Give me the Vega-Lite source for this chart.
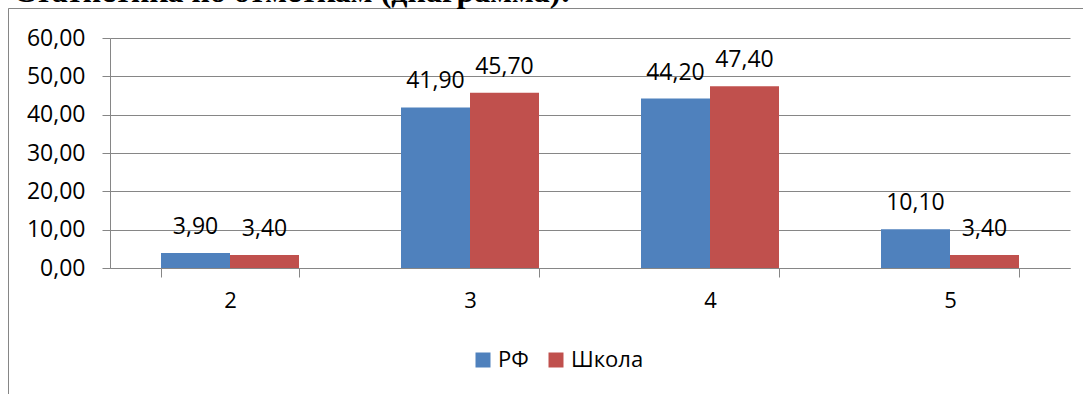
{
  "$schema": "https://vega.github.io/schema/vega-lite/v6.json",
  "autosize": "none",
  "padding": {"left": 8, "top": 8, "right": 0, "bottom": 0},
  "width": 1075,
  "height": 386,
  "title": {"text": "Статистика по отметкам (диаграмма):", "anchor": "start", "frame": "bounds", "orient": "top", "font": "Liberation Serif", "fontSize": 32, "fontWeight": "bold", "color": "black", "baseline": "alphabetic", "offset": -26, "dx": 5},
  "config": {
    "locale": {"number": {"decimal": ",", "thousands": " ", "grouping": [3], "currency": ["", ""]}},
    "view": {"stroke": "#868686", "strokeWidth": 1, "strokeDash": [1075, 1461, 386]},
    "font": "Open Sans"
  },
  "data": {"values": [
    {"grade": "2", "series": "РФ", "value": 3.9},
    {"grade": "2", "series": "Школа", "value": 3.4},
    {"grade": "3", "series": "РФ", "value": 41.9},
    {"grade": "3", "series": "Школа", "value": 45.7},
    {"grade": "4", "series": "РФ", "value": 44.2},
    {"grade": "4", "series": "Школа", "value": 47.4},
    {"grade": "5", "series": "РФ", "value": 10.1},
    {"grade": "5", "series": "Школа", "value": 3.4}
  ]},
  "encoding": {
    "x": {
      "field": "grade", "type": "nominal", "sort": ["2", "3", "4", "5"],
      "scale": {"range": [102, 1062], "paddingInner": 0.425, "paddingOuter": 0.2125},
      "axis": {"title": null, "orient": "bottom", "offset": -126, "labelAngle": 0, "labelFont": "Open Sans", "labelFontSize": 22, "labelColor": "black", "labelPadding": 13, "tickBand": "extent", "tickSize": 9, "tickColor": "#868686", "domainColor": "#868686", "grid": false}
    },
    "xOffset": {"field": "series", "type": "nominal", "sort": ["РФ", "Школа"], "scale": {"paddingInner": 0, "paddingOuter": 0}},
    "y": {
      "field": "value", "type": "quantitative",
      "scale": {"domain": [0, 60], "range": [260, 30], "nice": false},
      "axis": {"title": null, "orient": "left", "offset": -102, "values": [0, 10, 20, 30, 40, 50, 60], "format": ".2f", "labelFont": "Open Sans", "labelFontSize": 23, "labelColor": "black", "labelPadding": 17, "tickSize": 8, "tickColor": "#868686", "domainColor": "#868686", "grid": true, "gridColor": "#868686", "gridOpacity": 1}
    }
  },
  "layer": [
    {
      "mark": {"type": "bar"},
      "encoding": {
        "color": {
          "field": "series", "type": "nominal",
          "scale": {"domain": ["РФ", "Школа"], "range": ["#4F81BD", "#C0504D"]},
          "legend": {"orient": "none", "legendX": 464, "legendY": 341, "direction": "horizontal", "title": null, "symbolType": "square", "symbolSize": 225, "symbolStrokeWidth": 0, "labelFont": "Open Sans", "labelFontSize": 22, "labelColor": "black", "labelOffset": 4, "columnPadding": 16, "padding": 0}
        }
      }
    },
    {
      "mark": {"type": "text", "baseline": "alphabetic", "dy": -19, "fontSize": 23, "font": "Open Sans", "color": "black"},
      "encoding": {"text": {"field": "value", "type": "quantitative", "format": ".2f"}}
    }
  ]
}
